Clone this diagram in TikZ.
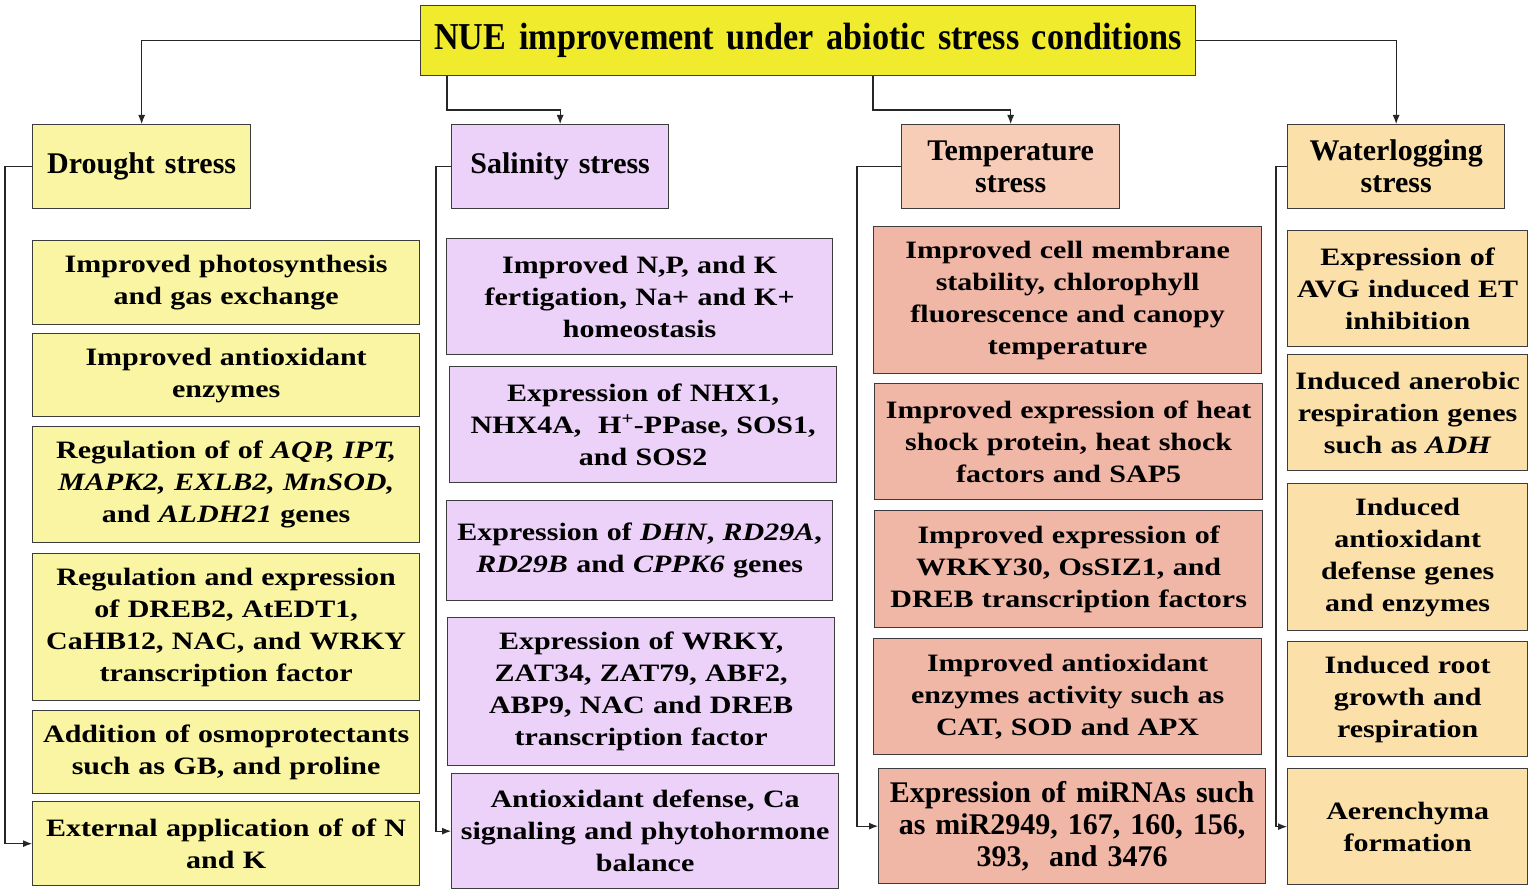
\documentclass[tikz,border=0pt]{standalone}
\usepackage{fontspec}
\setmainfont{Liberation Serif}
\newfontfamily\widefont{Liberation Serif}[FakeStretch=1.2]
\newfontfamily\tightfont{Liberation Serif}[FakeStretch=0.9]
\usetikzlibrary{arrows.meta, positioning, calc}
\definecolor{color1}{RGB}{240,236,45}
\definecolor{color2}{RGB}{250,245,162}
\definecolor{color3}{RGB}{236,210,248}
\definecolor{color4}{RGB}{248,205,184}
\definecolor{color5}{RGB}{240,182,166}
\definecolor{color6}{RGB}{252,224,170}
\definecolor{edge}{RGB}{60,60,60}

\begin{document}
\begin{tikzpicture}[x=1pt,y=-1pt,
	box/.style={draw=edge,line width=1.3pt,anchor=north west,align=center,inner xsep=0pt,inner ysep=2pt,
		font=\widefont\bfseries\fontsize{25}{32}\selectfont},
	head/.style={box,font=\rmfamily\bfseries\fontsize{30}{32}\selectfont},
	arr/.style={-{Latex[length=9pt,width=7pt]},line width=1.1pt,draw=black!85}]
	\useasboundingbox[fill=white] (0,0) rectangle (1535,893);

	% title and the four stresses
	\node[head,fill=color1,text width=775pt,minimum height=70pt,font=\tightfont\bfseries\fontsize{38}{40}\selectfont] (nue) at (420,5) {NUE improvement under abiotic stress conditions};
	\node[head,fill=color2,text width=218pt,minimum height=84pt] (drought) at (32,124) {Drought stress};
	\node[head,fill=color3,text width=217pt,minimum height=84pt] (salinity) at (451,124) {Salinity stress};
	\node[head,fill=color4,text width=218pt,minimum height=84pt] (temp) at (901,124) {Temperature\\stress};
	\node[head,fill=color6,text width=217pt,minimum height=84pt] (water) at (1287,124) {Waterlogging\\stress};

	% drought
	\node[box,fill=color2,text width=387pt,minimum height=84pt] (d1) at (32,240) {Improved photosynthesis\\and gas exchange};
	\node[box,fill=color2,text width=387pt,minimum height=83pt] (d2) at (32,333) {Improved antioxidant\\enzymes};
	\node[box,fill=color2,text width=387pt,minimum height=116pt] (d3) at (32,426) {Regulation of of \textit{AQP, IPT,}\\\textit{MAPK2, EXLB2, MnSOD,}\\and \textit{ALDH21} genes};
	\node[box,fill=color2,text width=387pt,minimum height=147pt] (d4) at (32,553) {Regulation and expression\\of DREB2, AtEDT1,\\CaHB12, NAC, and WRKY\\transcription factor};
	\node[box,fill=color2,text width=387pt,minimum height=83pt] (d5) at (32,710) {Addition of osmoprotectants\\such as GB, and proline};
	\node[box,fill=color2,text width=387pt,minimum height=84pt] (d6) at (32,801) {External application of of N\\and K};

	% salinity
	\node[box,fill=color3,text width=386pt,minimum height=116pt] (s1) at (446,238) {Improved N,P, and K\\fertigation, Na+ and K+\\homeostasis};
	\node[box,fill=color3,text width=387pt,minimum height=116pt] (s2) at (449,366) {Expression of NHX1,\\NHX4A,~ H\textsuperscript{+}-PPase, SOS1,\\and SOS2};
	\node[box,fill=color3,text width=386pt,minimum height=100pt] (s3) at (446,500) {Expression of \textit{DHN}, \textit{RD29A},\\\textit{RD29B} and \textit{CPPK6} genes};
	\node[box,fill=color3,text width=387pt,minimum height=148pt] (s4) at (447,617) {Expression of WRKY,\\ZAT34, ZAT79, ABF2,\\ABP9, NAC and DREB\\transcription factor};
	\node[box,fill=color3,text width=387pt,minimum height=115pt] (s5) at (451,773) {Antioxidant defense, Ca\\signaling and phytohormone\\balance};

	% temperature
	\node[box,fill=color5,text width=388pt,minimum height=147pt] (t1) at (873,226) {Improved cell membrane\\stability, chlorophyll\\fluorescence and canopy\\temperature};
	\node[box,fill=color5,text width=388pt,minimum height=116pt] (t2) at (874,383) {Improved expression of heat\\shock protein, heat shock\\factors and SAP5};
	\node[box,fill=color5,text width=388pt,minimum height=117pt] (t3) at (874,510) {Improved expression of\\WRKY30, OsSIZ1, and\\DREB transcription factors};
	\node[box,fill=color5,text width=388pt,minimum height=116pt] (t4) at (873,638) {Improved antioxidant\\enzymes activity such as\\CAT, SOD and APX};
	\node[head,fill=color5,text width=387pt,minimum height=115pt] (t5) at (878,768) {Expression of miRNAs such\\as miR2949, 167, 160, 156,\\393,~ and 3476};

	% waterlogging
	\node[box,fill=color6,text width=240pt,minimum height=116pt] (w1) at (1287,230) {Expression of\\AVG induced ET\\inhibition};
	\node[box,fill=color6,text width=240pt,minimum height=116pt] (w2) at (1287,354) {Induced anerobic\\respiration genes\\such as \textit{ADH}};
	\node[box,fill=color6,text width=240pt,minimum height=147pt] (w3) at (1287,483) {Induced\\antioxidant\\defense genes\\and enzymes};
	\node[box,fill=color6,text width=240pt,minimum height=115pt] (w4) at (1287,641) {Induced root\\growth and\\respiration};
	\node[box,fill=color6,text width=240pt,minimum height=116pt] (w5) at (1287,768) {Aerenchyma\\formation};

	% connectors
	\coordinate (sb) at (447,110);
	\coordinate (tb) at (873,110);
	\draw[arr] (nue.west) -| (drought.north);
	\draw[arr] (nue.south -| sb) -- (sb) -| (salinity.north);
	\draw[arr] (nue.south -| tb) -- (tb) -| (temp.north);
	\draw[arr] (nue.east) -| (water.north);

	\coordinate (dl) at (5,0);
	\coordinate (sl) at (436,0);
	\coordinate (tl) at (857,0);
	\coordinate (wl) at (1276,0);
	\draw[arr] (drought.west) -- (drought.west -| dl) |- (d6.west);
	\draw[arr] (salinity.west) -- (salinity.west -| sl) |- (s5.west);
	\draw[arr] (temp.west) -- (temp.west -| tl) |- (t5.west);
	\draw[arr] (water.west) -- (water.west -| wl) |- (w5.west);
\end{tikzpicture}
\end{document}
